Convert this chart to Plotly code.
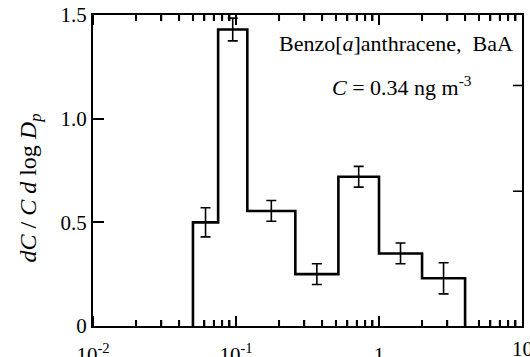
import numpy as np
import plotly.graph_objects as go

# Impactor stage edges (um) and normalized distribution
bin_edges = [0.05, 0.075, 0.12, 0.26, 0.52, 1.0, 2.0, 4.0]
values = [0.50, 1.43, 0.555, 0.25, 0.72, 0.35, 0.23]
errors = [0.07, 0.055, 0.05, 0.05, 0.05, 0.05, 0.075]

x_tick_defaults = ["0.01", "0.1", "1", "10"]
x_ticktext = ["10<sup>-2</sup>", "10<sup>-1</sup>", "1", "10"]
y_tickvals = [0, 0.5, 1.0, 1.5]
y_ticktext = ["0", "0.5", "1.0", "1.5"]
right_tick_vals = [0.65, 1.16]

FONT = "Liberation Serif"
X_LOG_RANGE = (-2, 1)
PLOT_W, PLOT_H = 429, 311

edges = np.array(bin_edges)
mids = np.sqrt(edges[:-1] * edges[1:])

step_x = [edges[0]] + list(edges[:-1]) + [edges[-1]]
step_y = [0] + values + [0]

fig = go.Figure()
fig.add_trace(go.Scatter(
    x=step_x, y=step_y, mode="lines", line_shape="hv",
    line=dict(color="black", width=2.6), showlegend=False,
))
fig.add_trace(go.Scatter(
    x=mids, y=values, mode="markers",
    marker=dict(size=1, color="rgba(0,0,0,0)"),
    error_y=dict(type="data", array=errors, visible=True,
                 color="black", thickness=1.6, width=5),
    showlegend=False,
))

alias = dict(zip(x_tick_defaults[:-1], x_ticktext[:-1]))
alias[x_tick_defaults[-1]] = " "

fig.update_xaxes(
    type="log", range=list(X_LOG_RANGE), dtick=1, mirror="ticks",
    labelalias=alias, automargin=False,
    showline=True, linecolor="black", linewidth=2,
    ticks="inside", ticklen=10, tickcolor="black", tickwidth=2,
    minor=dict(ticks="inside", ticklen=6, tickcolor="black", tickwidth=2),
    showgrid=False, zeroline=False, ticklabelstandoff=9,
    tickfont=dict(family=FONT, size=21, color="black"),
)
fig.update_yaxes(
    range=[0, 1.5], tickvals=y_tickvals, ticktext=y_ticktext, mirror=True,
    automargin=False,
    showline=True, linecolor="black", linewidth=2,
    ticks="inside", ticklen=11, tickcolor="black", tickwidth=1.6,
    showgrid=False, zeroline=False,
    tickfont=dict(family=FONT, size=21, color="black"),
)

# log-axis tick marks (major + minor), bottom and top, as decorations
def xfrac(v):
    return (np.log10(v) - X_LOG_RANGE[0]) / (X_LOG_RANGE[1] - X_LOG_RANGE[0])

tick_marks = []
for d in range(X_LOG_RANGE[0], X_LOG_RANGE[1]):
    tick_marks.append((10.0 ** d, 10))
    for m in range(2, 10):
        tick_marks.append((m * 10.0 ** d, 6))
for v, ln in tick_marks:
    f = float(xfrac(v))
    fig.add_shape(type="line", xref="paper", yref="paper", layer="above",
                  x0=f, x1=f, y0=0, y1=ln / PLOT_H,
                  line=dict(color="black", width=2))
    fig.add_shape(type="line", xref="paper", yref="paper", layer="above",
                  x0=f, x1=f, y0=1, y1=1 - ln / PLOT_H,
                  line=dict(color="black", width=2))

for v in right_tick_vals:
    fig.add_shape(type="line", xref="paper", yref="y", layer="above",
                  x0=1 - 9 / PLOT_W, x1=1, y0=v, y1=v,
                  line=dict(color="black", width=1.6))

fig.add_annotation(
    x=1, y=0, xref="paper", yref="paper", xanchor="center", yanchor="top",
    yshift=-9, text=x_ticktext[-1], showarrow=False,
    font=dict(family=FONT, size=21, color="black"),
)
fig.add_annotation(
    x=0.984, y=0.907, xref="paper", yref="paper", xanchor="right", yanchor="middle",
    text="Benzo[<i>a</i>]anthracene,  BaA", showarrow=False,
    font=dict(family=FONT, size=22, color="black"),
)
fig.add_annotation(
    x=0.72, y=0.772, xref="paper", yref="paper", xanchor="center", yanchor="middle",
    text="<i>C</i> = 0.34 ng m<sup>-3</sup>", showarrow=False,
    font=dict(family=FONT, size=22, color="black"),
)
fig.add_annotation(
    x=-0.147, y=0.445, xref="paper", yref="paper", xanchor="center", yanchor="middle",
    textangle=-90, showarrow=False,
    text="<i>dC</i> / <i>C d</i> log <i>D<sub>p</sub></i>",
    font=dict(family=FONT, size=24, color="black"),
)

fig.update_layout(
    width=530, height=357,
    margin=dict(l=93, r=8, t=15, b=31),
    paper_bgcolor="white", plot_bgcolor="white",
)

fig.write_html("out.html")
